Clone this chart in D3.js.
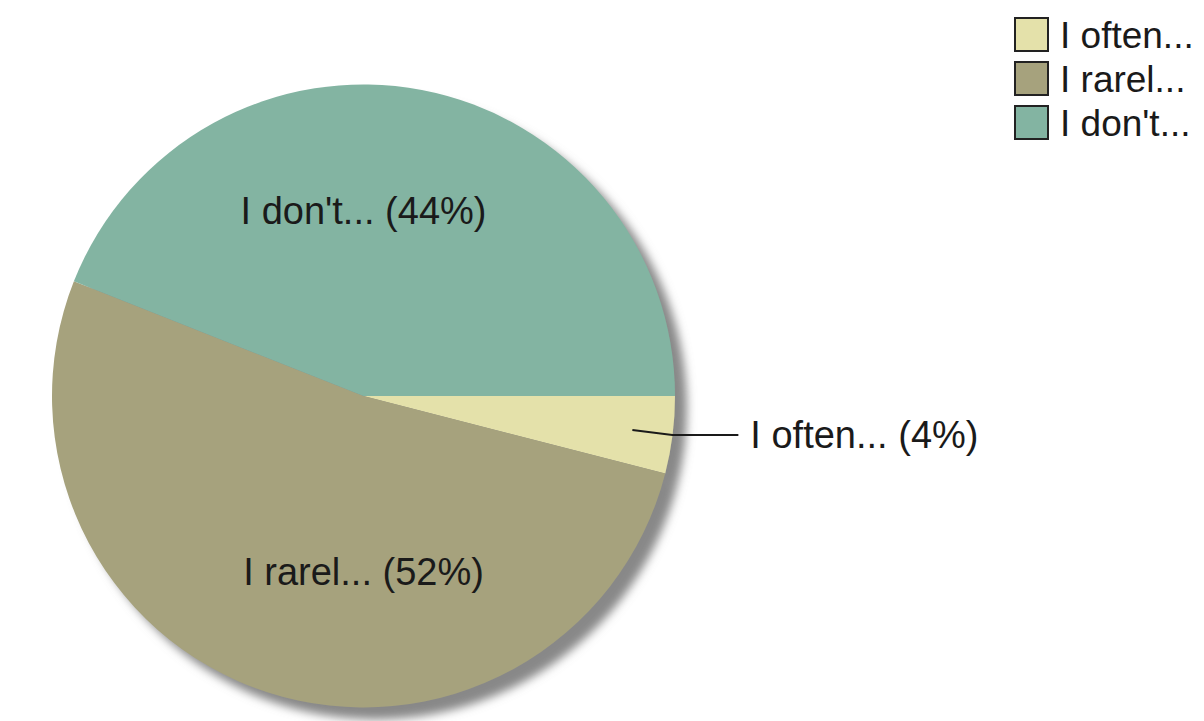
<!DOCTYPE html>
<html>
<head>
<meta charset="utf-8">
<script src="https://cdn.jsdelivr.net/npm/d3@7"></script>
<style>
  body { margin: 0; background: #fff; }
  text { font-family: "Liberation Sans", Arial, sans-serif; fill: #1a1a1a; }
</style>
</head>
<body>
<div id="chart"></div>
<script>
const categories = ["I often...", "I rarel...", "I don't..."];
const shares = [4, 52, 44];
const colors = ["#e4e1aa", "#a6a27d", "#83b4a2"];

const w = 1204, h = 721;
const cx = 363.5, cy = 396, r = 311.5;

const svg = d3.select("#chart")
  .append("svg")
  .attr("width", w)
  .attr("height", h);

// drop shadow behind the pie (down and to the right)
const defs = svg.append("defs");
const f = defs.append("filter")
  .attr("id", "shadow")
  .attr("x", "-20%").attr("y", "-20%")
  .attr("width", "140%").attr("height", "140%");
f.append("feGaussianBlur").attr("in", "SourceAlpha").attr("stdDeviation", 5).attr("result", "blur");
f.append("feOffset").attr("in", "blur").attr("dx", 12).attr("dy", 12).attr("result", "off");
f.append("feFlood").attr("flood-color", "#888888").attr("flood-opacity", 1);
f.append("feComposite").attr("in2", "off").attr("operator", "in").attr("result", "sh");
const merge = f.append("feMerge");
merge.append("feMergeNode").attr("in", "sh");
merge.append("feMergeNode").attr("in", "SourceGraphic");

const data = categories.map((c, i) => ({ name: c, value: shares[i], color: colors[i] }));

const pie = d3.pie()
  .sort(null)
  .value(d => d.value)
  .startAngle(Math.PI / 2)
  .endAngle(Math.PI / 2 + 2 * Math.PI);

const arc = d3.arc().innerRadius(0).outerRadius(r);
const arcs = pie(data);

const g = svg.append("g")
  .attr("transform", `translate(${cx},${cy})`);

g.append("g")
  .attr("filter", "url(#shadow)")
  .selectAll("path")
  .data(arcs)
  .join("path")
  .attr("d", arc)
  .attr("fill", d => d.data.color);

// labels: big slices get text inside, the small one gets a leader line
arcs.forEach(d => {
  const mid = (d.startAngle + d.endAngle) / 2;
  const txt = `${d.data.name} (${d.data.value}%)`;
  if (d.data.value >= 10) {
    const up = -Math.cos(mid) < 0;
    g.append("text")
      .attr("x", 0)
      .attr("y", up ? -172 : 189)
      .attr("text-anchor", "middle")
      .attr("font-size", 38)
      .text(txt);
  } else {
    const inner = d3.arc().innerRadius(r * 0.87).outerRadius(r * 0.87).centroid(d);
    const x0 = inner[0], y0 = inner[1];
    g.append("path")
      .attr("d", `M${x0},${y0} L${x0 + 40},${y0 + 5} L${x0 + 106},${y0 + 5}`)
      .attr("fill", "none")
      .attr("stroke", "#1a1a1a")
      .attr("stroke-width", 2);
    g.append("text")
      .attr("x", x0 + 118)
      .attr("y", y0 + 5)
      .attr("dy", "0.35em")
      .attr("font-size", 38)
      .text(txt);
  }
});

// legend
const legend = svg.append("g")
  .attr("transform", "translate(1015,18)");

const item = legend.selectAll("g")
  .data(data)
  .join("g")
  .attr("transform", (d, i) => `translate(0,${i * 44})`);

item.append("rect")
  .attr("width", 33)
  .attr("height", 33)
  .attr("fill", d => d.color)
  .attr("stroke", "#222")
  .attr("stroke-width", 2);

item.append("text")
  .attr("x", 45)
  .attr("y", 17)
  .attr("dy", "0.35em")
  .attr("font-size", 37)
  .text(d => d.name);
</script>
</body>
</html>
